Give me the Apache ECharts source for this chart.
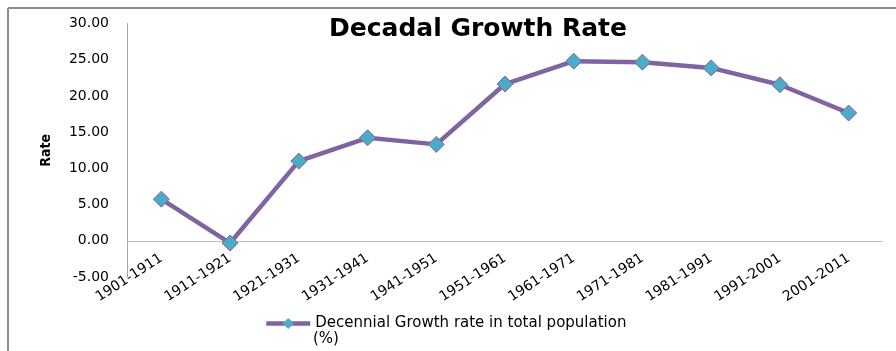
<!DOCTYPE html>
<html>
<head>
<meta charset="utf-8">
<script src="https://cdn.jsdelivr.net/npm/echarts@6/dist/echarts.min.js"></script>
<style>
html,body{margin:0;padding:0;background:#fff;}
#chart{width:896px;height:351px;}
</style>
</head>
<body>
<div id="chart"></div>
<script>
var categories = ['1901-1911','1911-1921','1921-1931','1931-1941','1941-1951','1951-1961','1961-1971','1971-1981','1981-1991','1991-2001','2001-2011'];
var growthRate = [5.75, -0.31, 11.00, 14.22, 13.31, 21.64, 24.80, 24.66, 23.87, 21.54, 17.64];
var yTicks = { min: -5, max: 30, interval: 5 };
var seriesName = 'Decennial Growth rate in total population';
var seriesNameLine2 = '(%)';
var titleText = 'Decadal Growth Rate';
var yAxisTitle = 'Rate';

var chart = echarts.init(document.getElementById('chart'));
chart.setOption({
  animation: false,
  backgroundColor: '#ffffff',
  title: {
    text: titleText,
    left: 473, top: 12, textAlign: 'center',
    textStyle: { fontFamily: 'DejaVu Sans', fontWeight: 'bold', fontSize: 25, color: '#000' }
  },
  graphic: [
    { type: 'line', shape: { x1: 8, y1: 8, x2: 896, y2: 8 }, style: { stroke: '#8c8c8c', lineWidth: 2 } },
    { type: 'line', shape: { x1: 8, y1: 8, x2: 8, y2: 351 }, style: { stroke: '#8c8c8c', lineWidth: 2 } },
    { type: 'text', left: 313, top: 332,
      style: { text: seriesNameLine2, fontFamily: 'DejaVu Sans', fontSize: 15, fill: '#000' } }
  ],
  grid: { left: 127, right: 13, top: 23.5, bottom: 74, containLabel: false },
  xAxis: {
    type: 'category',
    data: categories,
    boundaryGap: true,
    axisLine: { show: false },
    axisTick: { show: false },
    axisLabel: { rotate: 33, margin: -20, interval: 0, fontFamily: 'DejaVu Sans', fontSize: 14, color: '#000' }
  },
  yAxis: {
    type: 'value',
    min: yTicks.min, max: yTicks.max, interval: yTicks.interval,
    name: yAxisTitle, nameLocation: 'middle', nameRotate: 90, nameGap: 74,
    nameTextStyle: { fontFamily: 'DejaVu Sans Condensed, Liberation Sans', fontWeight: 'bold', fontSize: 14, color: '#000' },
    axisLine: { show: true, lineStyle: { color: '#a6a6a6', width: 1 } },
    axisTick: { show: false },
    splitLine: { show: false },
    axisLabel: { margin: 18, fontFamily: 'DejaVu Sans', fontSize: 14, color: '#000',
      formatter: function (v) { return v.toFixed(2); } }
  },
  legend: {
    left: 259, top: 311,
    itemWidth: 44, itemHeight: 14, itemGap: 4,
    lineStyle: { width: 4.5, color: '#8064A2' },
    itemStyle: { color: '#4BACC6', borderColor: '#4BACC6', borderWidth: 0 },
    textStyle: { fontFamily: 'DejaVu Sans', fontSize: 15, color: '#000' },
    data: [seriesName]
  },
  series: [{
    name: seriesName,
    type: 'line',
    data: growthRate,
    symbol: 'diamond',
    symbolSize: 16,
    lineStyle: { color: '#8064A2', width: 4.5 },
    itemStyle: { color: '#4BACC6', borderColor: '#8064A2', borderWidth: 1 },
    markLine: {
      silent: true, symbol: 'none', label: { show: false },
      lineStyle: { color: '#bfbfbf', type: 'solid', width: 1 },
      data: [{ yAxis: 0 }],
      z: 1
    },
    z: 3
  }]
});
</script>
</body>
</html>
